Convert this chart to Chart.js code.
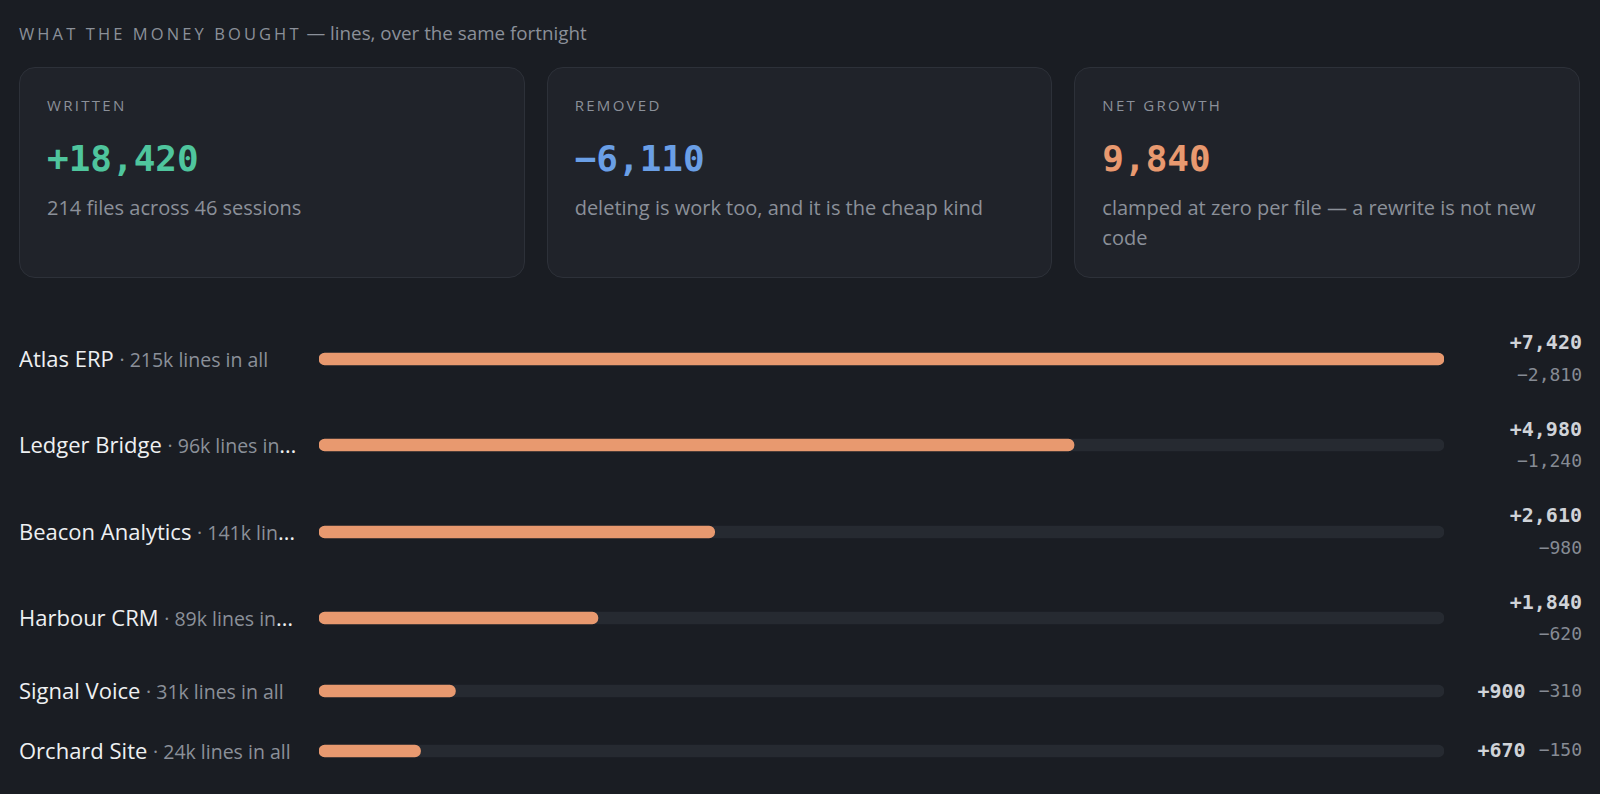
<!DOCTYPE html>
<html>
<head>
<meta charset="utf-8">
<script src="https://cdn.jsdelivr.net/npm/chart.js@4/dist/chart.umd.min.js"></script>
<style>
  html, body { margin: 0; background: #1a1d23; }
  body { width: 1600px; height: 794px; overflow: hidden; font-family: "Open Sans", sans-serif; color: #e6e8eb; }
  .wrap { padding: 20px 20px 0 19px; }
  .head { font-size: 18.8px; line-height: 27px; color: #8b9099; white-space: nowrap; }
  .head .cap { letter-spacing: 3.1px; font-size: 16.5px; }
  .cards { display: grid; grid-template-columns: repeat(3, 1fr); column-gap: 22px; margin-top: 20px; }
  .card { background: #20232a; border: 1px solid #2d3139; border-radius: 16px; padding: 25px 27px 25px 27px; }
  .card .lbl { font-size: 15px; letter-spacing: 2.3px; color: #8b9099; line-height: 24px; }
  .card .num { font-family: "DejaVu Sans Mono", monospace; font-weight: 700; font-size: 36px; line-height: 43px; margin-top: 20px; }
  .card .sub { font-size: 20px; line-height: 29.5px; color: #8b9099; margin-top: 13px; }
  .rows { margin-top: 48px; margin-right: -2px; display: flex; flex-direction: column; row-gap: 21.5px; }
  .row { display: grid; grid-template-columns: 278px 1fr 116px; column-gap: 22px; align-items: center; }
  .name { white-space: nowrap; overflow: hidden; text-overflow: ellipsis; line-height: 36px; font-size: 22px; color: #eef0f2; }
  .name span { font-size: 19.5px; color: #8b9099; }
  .bar { position: relative; height: 20px; }
  .vals { display: flex; flex-wrap: wrap; justify-content: flex-end; column-gap: 13px; font-family: "DejaVu Sans Mono", monospace; white-space: nowrap; }
  .vals .w { font-size: 20px; font-weight: 700; color: #d0d3d8; line-height: 32.5px; }
  .vals .r { font-size: 18px; color: #868b94; line-height: 32.5px; }
</style>
</head>
<body>
<div class="wrap">
  <div class="head"><span class="cap">WHAT THE MONEY BOUGHT</span> — lines, over the same fortnight</div>
  <div class="cards" id="cards"></div>
  <div class="rows" id="rows"></div>
</div>
<script>
// summary cards
var cardTitles = ['WRITTEN', 'REMOVED', 'NET GROWTH'];
var cardValues = ['+18,420', '\u22126,110', '9,840'];
var cardNotes = ['214 files across 46 sessions', 'deleting is work too, and it is the cheap kind', 'clamped at zero per file \u2014 a rewrite is not new code'];
var cardColors = ['#4fc59d', '#6a9fe6', '#e8996f'];

// per project lines
var projects = ['Atlas ERP', 'Ledger Bridge', 'Beacon Analytics', 'Harbour CRM', 'Signal Voice', 'Orchard Site'];
var projectSizes = ['215k', '96k', '141k', '89k', '31k', '24k'];
var written = [7420, 4980, 2610, 1840, 900, 670];
var removed = [2810, 1240, 980, 620, 310, 150];

var cardsEl = document.getElementById('cards');
for (var i = 0; i < cardTitles.length; i++) {
    var c = document.createElement('div');
    c.className = 'card';
    c.innerHTML = '<div class="lbl">' + cardTitles[i] + '</div>' +
        '<div class="num" style="color:' + cardColors[i] + '">' + cardValues[i] + '</div>' +
        '<div class="sub">' + cardNotes[i] + '</div>';
    cardsEl.appendChild(c);
}

var maxWritten = Math.max.apply(null, written);
var rowsEl = document.getElementById('rows');
projects.forEach(function(p, i) {
    var row = document.createElement('div');
    row.className = 'row';
    row.innerHTML = '<div class="name">' + p + ' <span>\u00b7 ' + projectSizes[i] + ' lines in all</span></div>' +
        '<div class="bar"><canvas id="bar' + i + '"></canvas></div>' +
        '<div class="vals"><span class="w">+' + written[i].toLocaleString('en-US') + '</span>' +
        '<span class="r">\u2212' + removed[i].toLocaleString('en-US') + '</span></div>';
    rowsEl.appendChild(row);

    new Chart(document.getElementById('bar' + i), {
        type: 'bar',
        data: {
            labels: [p],
            datasets: [{
                data: [written[i]],
                backgroundColor: '#e8996f',
                borderRadius: 6,
                borderSkipped: false,
                barThickness: 12,
                grouped: false,
                order: 1
            }, {
                data: [maxWritten],
                backgroundColor: '#262a31',
                borderRadius: 6,
                borderSkipped: false,
                barThickness: 12,
                grouped: false,
                order: 2
            }]
        },
        options: {
            indexAxis: 'y',
            responsive: true,
            maintainAspectRatio: false,
            animation: false,
            layout: { padding: 0 },
            plugins: { legend: { display: false }, tooltip: { enabled: false } },
            scales: {
                x: { display: false, min: 0, max: maxWritten },
                y: { display: false }
            }
        }
    });
});
</script>
</body>
</html>
